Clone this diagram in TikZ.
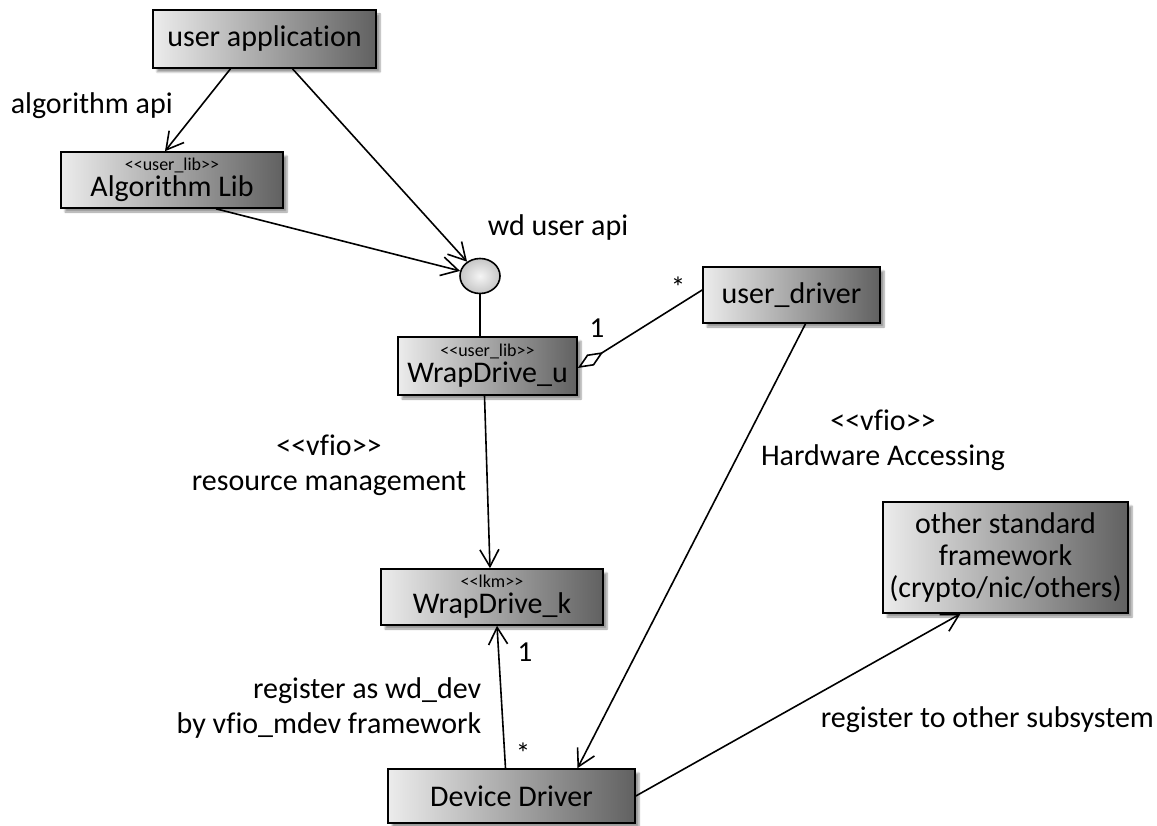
\documentclass[tikz,border=0pt]{standalone}
\usepackage{fontspec}
\newfontfamily\umlfont{Carlito}[Ligatures={NoCommon}]
\usepackage{tikz}
\usetikzlibrary{arrows.meta}
\usetikzlibrary{shapes}
\usetikzlibrary{shadows.blur}
\newcommand \stereo [1] {{\fontsize{18}{18}\selectfont #1}}
\tikzstyle{comp}=[rectangle,draw=black,left color=gray!15,right color=black!62,blur shadow={shadow xshift=4pt,shadow yshift=-4pt,shadow blur steps=6},inner sep=0mm,align=center,font=\umlfont\fontsize{30}{32}\selectfont]
\tikzstyle{iface}=[ellipse,draw=black,inner color=gray!8,outer color=gray!45,inner sep=0mm,minimum width=40pt,minimum height=35pt]
\tikzstyle{lbl}=[inner sep=0mm,align=center,font=\umlfont\fontsize{30}{35}\selectfont]
\tikzstyle{mult}=[inner sep=0mm,font=\umlfont\fontsize{29}{29}\selectfont]
\tikzstyle{arrow}=[-{Straight Barb[length=17pt,width=19pt]}]
\tikzset{every picture/.style={
    line width=1.6pt
  }
}

\begin{document}
\begin{tikzpicture}[x=1pt,y=-1pt]
      \useasboundingbox (0,0) rectangle (1157,826);
      \node[comp,minimum width=223pt,minimum height=58pt] at (264.5,39) (app) {user application};
      \node[comp,minimum width=222pt,minimum height=56pt] at (172,180) (alglib) {\stereo{<<user\_lib>>}\\[-6pt]Algorithm Lib};
      \node[iface] at (480,276) (api) {};
      \node[comp,minimum width=179pt,minimum height=58pt] at (487.5,366) (wdu) {\stereo{<<user\_lib>>}\\[-6pt]WrapDrive\_u};
      \node[comp,minimum width=177pt,minimum height=56pt] at (791.5,295) (udrv) {user\_driver};
      \node[comp,minimum width=222pt,minimum height=56pt] at (492,597) (wdk) {\stereo{<<lkm>>}\\[-6pt]WrapDrive\_k};
      \node[comp,minimum width=247pt,minimum height=54pt] at (511.5,796) (dev) {Device Driver};
      \node[comp,minimum width=245pt,minimum height=111pt] at (1005.5,557.5) (other) {other standard\\framework\\(crypto/nic/others)};
      % labels
      \node[lbl,anchor=west] at (10,106) (algapi) {algorithm api};
      \node[lbl,anchor=west] at (487,228) (wdapi) {wd user api};
      \node[lbl] at (329,465) (resmgmt) {<<vfio>>\\resource management};
      \node[lbl] at (883,440) (hwacc) {<<vfio>>\\Hardware Accessing};
      \node[lbl,anchor=east,align=right] at (482,708) (regwd) {register as wd\_dev\\by vfio\_mdev framework};
      \node[lbl,anchor=west] at (820,720) (regother) {register to other subsystem};
      \node[mult] at (597,328) (m1) {1};
      \node[mult] at (678,287) (m2) {*};
      \node[mult] at (525,652) (m3) {1};
      \node[mult] at (523,753) (m4) {*};
      % connectors
      \draw[arrow] ([xshift=-34pt]app.south) -- ([xshift=-7pt]alglib.north);
      \draw[arrow] ([xshift=28pt]app.south) -- (api);
      \draw[arrow] ([xshift=44pt]alglib.south) -- (api);
      \draw (api.south) -- (api.south |- wdu.north);
      \draw[{Diamond[open,length=30pt,width=13pt]}-] ([yshift=-2pt]wdu.east) -- ([yshift=5pt]udrv.west);
      \draw[arrow] ([xshift=-3pt]wdu.south) -- ([xshift=-2pt]wdk.north);
      \draw[arrow] ([xshift=-6pt]dev.north) -- ([xshift=5pt]wdk.south);
      \draw[arrow] ([xshift=14pt]udrv.south) -- ([xshift=66pt]dev.north);
      \draw[arrow] (dev.east) -- ([xshift=-45pt]other.south);
    \end{tikzpicture}
\end{document}
